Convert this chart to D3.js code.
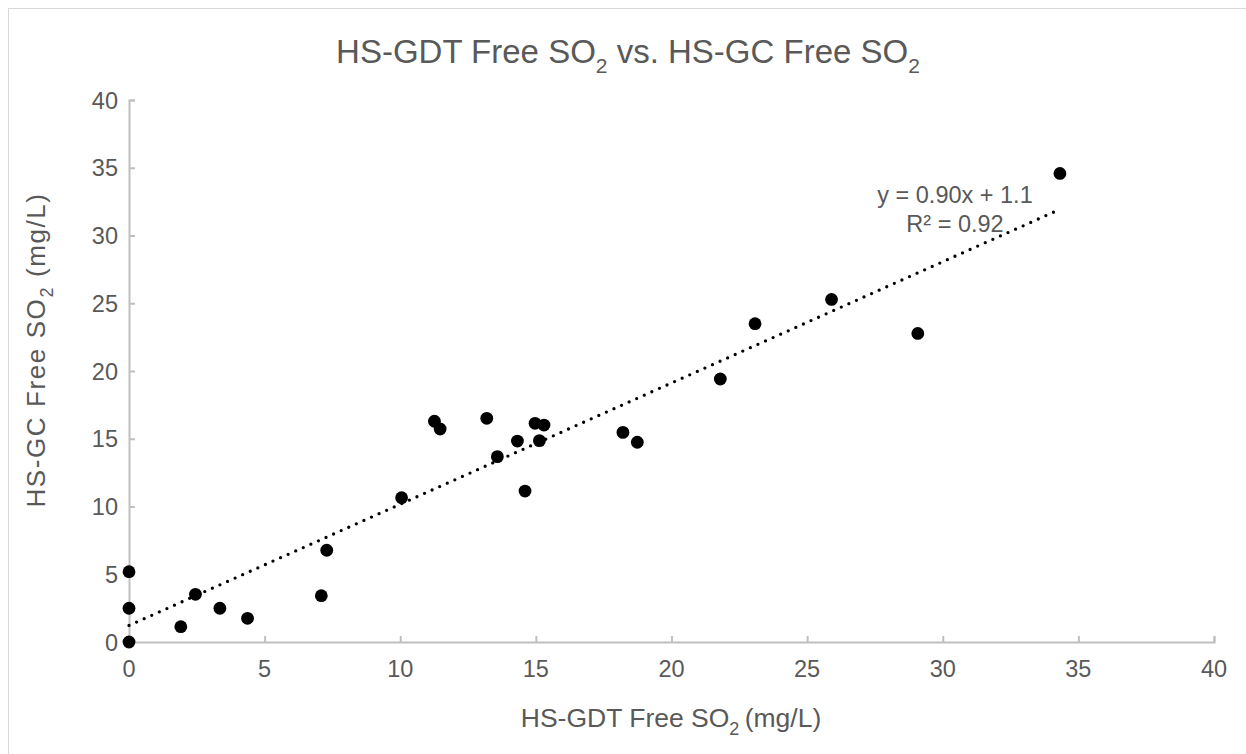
<!DOCTYPE html>
<html>
<head>
<meta charset="utf-8">
<script src="https://cdn.jsdelivr.net/npm/d3@7"></script>
<style>
  html, body { margin: 0; padding: 0; background: #fff; }
  svg text { font-family: 'Liberation Sans', Arial, sans-serif; fill: #595959; }
</style>
</head>
<body>
<div id="chart" data-js-graph></div>
<script>
// data
const gdtValues = [0, 0, 0, 1.91, 2.45, 3.35, 4.37, 7.09, 7.29, 10.05, 11.26, 11.47, 13.19,
  13.58, 14.32, 14.60, 14.97, 15.30, 15.13, 18.21, 18.74, 21.80, 23.08, 25.90, 29.08, 34.32];
const gcValues = [0, 5.19, 2.49, 1.13, 3.52, 2.49, 1.75, 3.42, 6.77, 10.65, 16.29, 15.72, 16.51,
  13.68, 14.83, 11.14, 16.14, 16.01, 14.86, 15.47, 14.74, 19.41, 23.49, 25.28, 22.77, 34.58];
const xTicks = [0, 5, 10, 15, 20, 25, 30, 35, 40];
const yTicks = [0, 5, 10, 15, 20, 25, 30, 35, 40];
const trendLabels = ['y = 0.90x + 1.1', 'R² = 0.92'];

const SETTING = {
  width: 1246,
  height: 754,
  left: 129,
  right: 1214,
  top: 100,
  bottom: 642,
  axisColor: '#bfbfbf',
};

const svg = d3.select('[data-js-graph]').append('svg')
  .attr('width', SETTING.width)
  .attr('height', SETTING.height);

svg.append('rect')
  .attr('width', SETTING.width)
  .attr('height', SETTING.height)
  .attr('fill', '#fff');

// chart border (only top and left show in the frame)
svg.append('rect')
  .attr('x', 8.5)
  .attr('y', 8.5)
  .attr('width', SETTING.width)
  .attr('height', SETTING.height)
  .attr('fill', 'none')
  .attr('stroke', '#d9d9d9');

const x = d3.scaleLinear().domain([0, 40]).range([SETTING.left, SETTING.right]);
const y = d3.scaleLinear().domain([0, 40]).range([SETTING.bottom, SETTING.top]);

// axes, ticks inside
const xAxis = svg.append('g')
  .attr('transform', `translate(0,${SETTING.bottom})`)
  .call(d3.axisTop(x).tickValues(xTicks).tickSize(6).tickFormat(''));
const yAxis = svg.append('g')
  .attr('transform', `translate(${SETTING.left},0)`)
  .call(d3.axisRight(y).tickValues(yTicks).tickSize(6).tickFormat(''));

[xAxis, yAxis].forEach((ax) => {
  ax.select('.domain').attr('stroke', SETTING.axisColor).attr('stroke-width', 2);
  ax.selectAll('.tick line').attr('stroke', SETTING.axisColor).attr('stroke-width', 2);
});

// tick labels
svg.append('g').selectAll('text')
  .data(xTicks)
  .enter()
  .append('text')
  .attr('x', (d) => x(d))
  .attr('y', SETTING.bottom + 35)
  .attr('text-anchor', 'middle')
  .style('font-size', '23.5px')
  .text((d) => d);

svg.append('g').selectAll('text')
  .data(yTicks)
  .enter()
  .append('text')
  .attr('x', SETTING.left - 11)
  .attr('y', (d) => y(d) + 8.5)
  .attr('text-anchor', 'end')
  .style('font-size', '23.5px')
  .text((d) => d);

// helper for "SO2" style labels with subscripts
function addSubText(sel, parts, size, subSize) {
  parts.forEach((p) => {
    if (p.sub) {
      sel.append('tspan').attr('dy', size * 0.3).style('font-size', `${subSize}px`).text(p.t);
    } else {
      sel.append('tspan').attr('dy', p.back ? -size * 0.3 : 0).style('font-size', `${size}px`).text(p.t);
    }
  });
}

// title
const title = svg.append('text')
  .attr('x', 628)
  .attr('y', 63)
  .attr('text-anchor', 'middle');
addSubText(title, [
  { t: 'HS-GDT Free SO' }, { t: '2', sub: true },
  { t: ' vs. HS-GC Free SO', back: true }, { t: '2', sub: true },
], 33, 21);

// x axis title
const xTitle = svg.append('text')
  .attr('x', 671)
  .attr('y', 727)
  .attr('text-anchor', 'middle');
addSubText(xTitle, [
  { t: 'HS-GDT Free SO' }, { t: '2', sub: true }, { t: '\u2009(mg/L)', back: true },
], 26.5, 18);

// y axis title
const yTitle = svg.append('text')
  .attr('transform', 'translate(45,350) rotate(-90)')
  .attr('text-anchor', 'middle')
  .style('letter-spacing', '1.6px');
addSubText(yTitle, [
  { t: 'HS-GC Free SO' }, { t: '2', sub: true }, { t: ' (mg/L)', back: true },
], 26, 18);

// linear trend line (least squares)
const pts = gdtValues.map((v, i) => [v, gcValues[i]]);
const mx = d3.mean(pts, (d) => d[0]);
const my = d3.mean(pts, (d) => d[1]);
const slope = d3.sum(pts, (d) => (d[0] - mx) * (d[1] - my)) / d3.sum(pts, (d) => (d[0] - mx) ** 2);
const intercept = my - slope * mx;
const xMax = d3.max(gdtValues);

svg.append('path')
  .datum([0, xMax])
  .attr('d', d3.line().x((d) => x(d)).y((d) => y(slope * d + intercept)))
  .attr('fill', 'none')
  .attr('stroke', '#000')
  .attr('stroke-width', 3.3)
  .attr('stroke-linecap', 'round')
  .attr('stroke-dasharray', '0 8.3');

// points
svg.append('g').selectAll('circle')
  .data(pts)
  .enter()
  .append('circle')
  .attr('cx', (d) => x(d[0]))
  .attr('cy', (d) => y(d[1]))
  .attr('r', 6.4)
  .attr('fill', '#000');

// trend equation
svg.append('g').selectAll('text')
  .data(trendLabels)
  .enter()
  .append('text')
  .attr('x', 955)
  .attr('y', (d, i) => 203 + i * 29)
  .attr('text-anchor', 'middle')
  .style('font-size', '23.5px')
  .text((d) => d);
</script>
</body>
</html>
